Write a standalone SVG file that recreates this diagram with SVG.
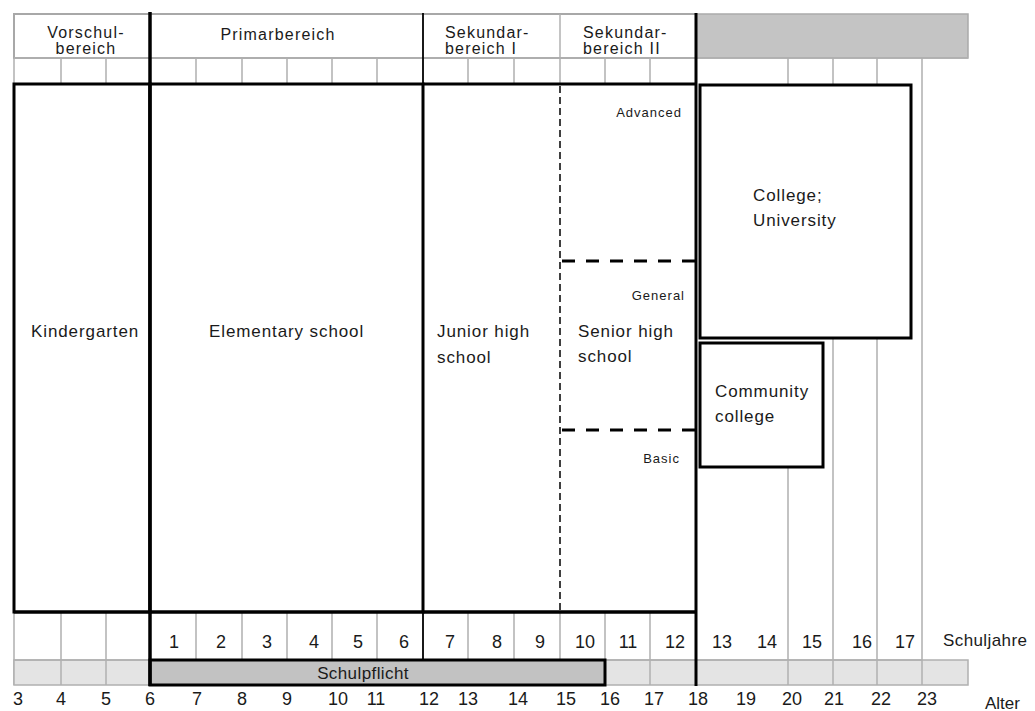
<svg xmlns="http://www.w3.org/2000/svg" width="1035" height="711" viewBox="0 0 1035 711">
<style>
text{font-family:"Liberation Sans",Arial,sans-serif;fill:#1a1a1a}
.h{font-size:16px;letter-spacing:1.2px}
.m{font-size:17px;letter-spacing:0.9px}
.s{font-size:13px;letter-spacing:1px;text-anchor:end}
.n{font-size:18px;text-anchor:middle}
.g{stroke:#b0b0b0;stroke-width:1.5;fill:none}
.box{fill:#fff;stroke:#000;stroke-width:3}
</style>
<rect width="1035" height="711" fill="#fff"/>
<g id="header">
<rect x="14" y="14" width="682" height="44" fill="#fff" stroke="#a8a8a8" stroke-width="2"/>
<rect x="696" y="14" width="272" height="44" fill="#c4c4c4" stroke="#aaa" stroke-width="1.5"/>
<line x1="560" y1="14" x2="560" y2="58" class="g" stroke-width="2.5"/>
<text class="h" x="86" y="38" text-anchor="middle">Vorschul-</text>
<text class="h" x="86" y="54" text-anchor="middle">bereich</text>
<text class="h" x="278" y="40" text-anchor="middle">Primarbereich</text>
<text class="h" x="445" y="38">Sekundar-</text>
<text class="h" x="445" y="54">bereich  I</text>
<text class="h" x="583" y="38">Sekundar-</text>
<text class="h" x="583" y="54">bereich  II</text>
</g>
<g id="grid">
<path class="g" d="M14 58H968 M14 58V685 M61 58V84 M106 58V84 M196 58V84 M242 58V84 M287 58V84 M332 58V84 M377 58V84 M468 58V84 M514 58V84 M560 58V84 M605 58V84 M650 58V84 M788 58V85 M833 58V85 M877 58V85 M922 58V685 M788 467V685 M833 338V685 M877 338V685"/>
<path class="g" d="M61 612V685 M106 612V685 M196 612V685 M242 612V685 M287 612V685 M332 612V685 M377 612V685 M468 612V685 M514 612V685 M560 612V685 M605 612V685 M650 612V685"/>
<rect x="14" y="660" width="954" height="25" fill="#e4e4e4" stroke="#b0b0b0" stroke-width="1.5"/>
<path class="g" d="M61 660V685 M106 660V685 M650 660V685 M788 660V685 M833 660V685 M877 660V685 M922 660V685"/>
<line x1="14" y1="660" x2="922" y2="660" class="g"/>
</g>
<g id="kindergarten">
<rect class="box" x="14" y="84" width="136" height="528"/>
<text class="m" x="31" y="337">Kindergarten</text>
</g>
<g id="elementary">
<rect class="box" x="150" y="84" width="273" height="528"/>
<text class="m" x="209" y="337">Elementary school</text>
</g>
<g id="juniorhigh">
<path d="M423 84H560 M423 612H560" stroke="#000" stroke-width="3" fill="none"/>
<text class="m" x="437" y="337">Junior high</text>
<text class="m" x="437" y="363">school</text>
</g>
<g id="seniorhigh">
<path d="M560 84H696 M560 612H696" stroke="#000" stroke-width="3" fill="none"/>
<line x1="560" y1="86" x2="560" y2="612" stroke="#000" stroke-width="1.5" stroke-dasharray="7 4"/>
<path d="M562 261H696 M562 430H696" stroke="#000" stroke-width="3" stroke-dasharray="13 11" fill="none"/>
<text class="s" x="682" y="117">Advanced</text>
<text class="s" x="685" y="300">General</text>
<text class="s" x="680" y="463">Basic</text>
<text class="m" x="578" y="337">Senior high</text>
<text class="m" x="578" y="362">school</text>
</g>
<g id="college">
<rect class="box" x="700" y="85" width="211" height="253"/>
<text class="m" x="753" y="201">College;</text>
<text class="m" x="753" y="226">University</text>
</g>
<g id="community">
<rect class="box" x="700" y="343" width="123" height="124"/>
<text class="m" x="715" y="397">Community</text>
<text class="m" x="715" y="422">college</text>
</g>
<g id="schulpflicht">
<rect x="150" y="660" width="455" height="25" fill="#c2c2c2" stroke="#000" stroke-width="3"/>
<text x="363" y="679" text-anchor="middle" style="font-size:17px;letter-spacing:0.4px">Schulpflicht</text>
</g>
<g id="dividers">
<line x1="150" y1="12" x2="150" y2="686" stroke="#000" stroke-width="3.5"/>
<line x1="423" y1="13" x2="423" y2="660" stroke="#000" stroke-width="1.8"/>
<line x1="696" y1="13" x2="696" y2="686" stroke="#000" stroke-width="3"/>
<line x1="14" y1="612" x2="696" y2="612" stroke="#000" stroke-width="3"/>
</g>
<g id="schuljahre">
<text class="n" x="174" y="648">1</text>
<text class="n" x="221" y="648">2</text>
<text class="n" x="267" y="648">3</text>
<text class="n" x="314" y="648">4</text>
<text class="n" x="358" y="648">5</text>
<text class="n" x="404" y="648">6</text>
<text class="n" x="450" y="648">7</text>
<text class="n" x="497" y="648">8</text>
<text class="n" x="540" y="648">9</text>
<text class="n" x="585" y="648">10</text>
<text class="n" x="628" y="648">11</text>
<text class="n" x="675" y="648">12</text>
<text class="n" x="722" y="648">13</text>
<text class="n" x="767" y="648">14</text>
<text class="n" x="812" y="648">15</text>
<text class="n" x="862" y="648">16</text>
<text class="n" x="905" y="648">17</text>
<text x="943" y="646" style="font-size:17px;letter-spacing:0.4px">Schuljahre</text>
</g>
<g id="alter">
<text class="n" x="18" y="705">3</text>
<text class="n" x="61" y="705">4</text>
<text class="n" x="106" y="705">5</text>
<text class="n" x="150" y="705">6</text>
<text class="n" x="197" y="705">7</text>
<text class="n" x="242" y="705">8</text>
<text class="n" x="287" y="705">9</text>
<text class="n" x="338" y="705">10</text>
<text class="n" x="376" y="705">11</text>
<text class="n" x="429" y="705">12</text>
<text class="n" x="468" y="705">13</text>
<text class="n" x="518" y="705">14</text>
<text class="n" x="566" y="705">15</text>
<text class="n" x="610" y="705">16</text>
<text class="n" x="654" y="705">17</text>
<text class="n" x="698" y="705">18</text>
<text class="n" x="746" y="705">19</text>
<text class="n" x="792" y="705">20</text>
<text class="n" x="834" y="705">21</text>
<text class="n" x="881" y="705">22</text>
<text class="n" x="927" y="705">23</text>
<text x="985" y="709" style="font-size:17px">Alter</text>
</g>
</svg>
